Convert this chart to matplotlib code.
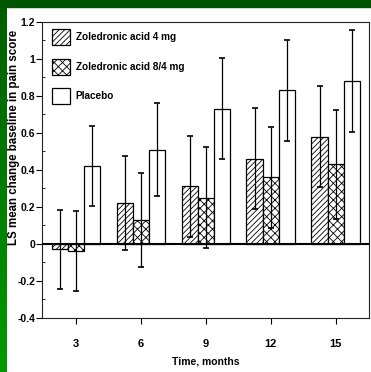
import numpy as np
import matplotlib
matplotlib.use("Agg")
import matplotlib.pyplot as plt
from matplotlib.patches import Patch, Rectangle

plt.rcParams['font.family'] = ['Liberation Sans', 'DejaVu Sans']
plt.rcParams['hatch.linewidth'] = 0.6

months = ['3', '6', '9', '12', '15']
series = ['Zoledronic acid 4 mg', 'Zoledronic acid 8/4 mg', 'Placebo']
za4 = [-0.03, 0.22, 0.31, 0.46, 0.58]
za4_err = [0.215, 0.256, 0.272, 0.274, 0.274]
za8 = [-0.04, 0.13, 0.25, 0.36, 0.43]
za8_err = [0.217, 0.254, 0.275, 0.274, 0.295]
placebo = [0.42, 0.51, 0.73, 0.83, 0.88]
placebo_err = [0.215, 0.254, 0.273, 0.273, 0.276]

fig = plt.figure(figsize=(3.71, 3.72), dpi=100)

# green slide frame
bg = fig.add_axes([0, 0, 7/371, 1])
grad = np.linspace(0, 1, 100).reshape(-1, 1)
cmap = matplotlib.colors.LinearSegmentedColormap.from_list('g', ['#005e00', '#009a00'])
bg.imshow(grad, aspect='auto', cmap=cmap, extent=[0, 1, 0, 1], origin='upper')
bg.axis('off')
fig.patches.append(Rectangle((0, 1 - 7/372), 1, 7/372, transform=fig.transFigure,
                             color='#005500', zorder=0))

ax = fig.add_axes([42/371, 1 - 317.7/372, 327/371, 295.7/372])
x = np.arange(len(months))
w = 0.25
hatches = ['//////', 'xxxx', '']
vals = [za4, za8, placebo]
errs = [za4_err, za8_err, placebo_err]
for i in range(3):
    ax.bar(x + (i - 1) * w, vals[i], w, color='white', edgecolor='black',
           linewidth=0.9, hatch=hatches[i], zorder=2)
    ax.errorbar(x + (i - 1) * w, vals[i], yerr=errs[i], fmt='none', ecolor='black',
                elinewidth=0.9, capsize=2.5, capthick=1.2, zorder=3)

ax.axhline(0, color='black', lw=1.5, zorder=4)
ax.set_xlim(-0.523, 4.512)
ax.set_ylim(-0.4, 1.2)
ax.set_yticks([-0.4, -0.2, 0, 0.2, 0.4, 0.6, 0.8, 1, 1.2])
ax.set_yticklabels(['-0.4', '-0.2', '0', '0.2', '0.4', '0.6', '0.8', '1', '1.2'])
ax.set_yticks(np.arange(-0.3, 1.2, 0.2), minor=True)
ax.set_xticks(x)
ax.set_xticklabels(months)
ax.tick_params(axis='y', direction='out', length=4, width=0.8, pad=1, labelsize=7.5)
ax.tick_params(axis='y', which='minor', direction='in', length=2, width=0.6)
ax.tick_params(axis='x', direction='out', length=4, width=0.8, pad=11, labelsize=8)
for lab in ax.get_xticklabels() + ax.get_yticklabels():
    lab.set_fontweight('bold')
for s in ax.spines.values():
    s.set_linewidth(0.8)
    s.set_color('#222222')

ax.set_xlabel('Time, months', fontsize=7.5, fontweight='bold', labelpad=6)
ax.set_ylabel('LS mean change baseline in pain score', fontsize=8.3, fontweight='bold')
ax.yaxis.label.set_va('center')
ax.yaxis.set_label_coords(-28/327, 0.61)

handles = [Patch(facecolor='white', edgecolor='black', hatch=h, linewidth=0.9) for h in hatches]
ax.legend(handles, series, loc='upper left', bbox_to_anchor=(0.0297, 0.976),
          frameon=False, borderpad=0, borderaxespad=0, handlelength=1.8, handleheight=2.1,
          handletextpad=0.6, labelspacing=1.35, prop={'size': 7.2, 'weight': 'bold'})

fig.savefig('out.png', dpi=100)
